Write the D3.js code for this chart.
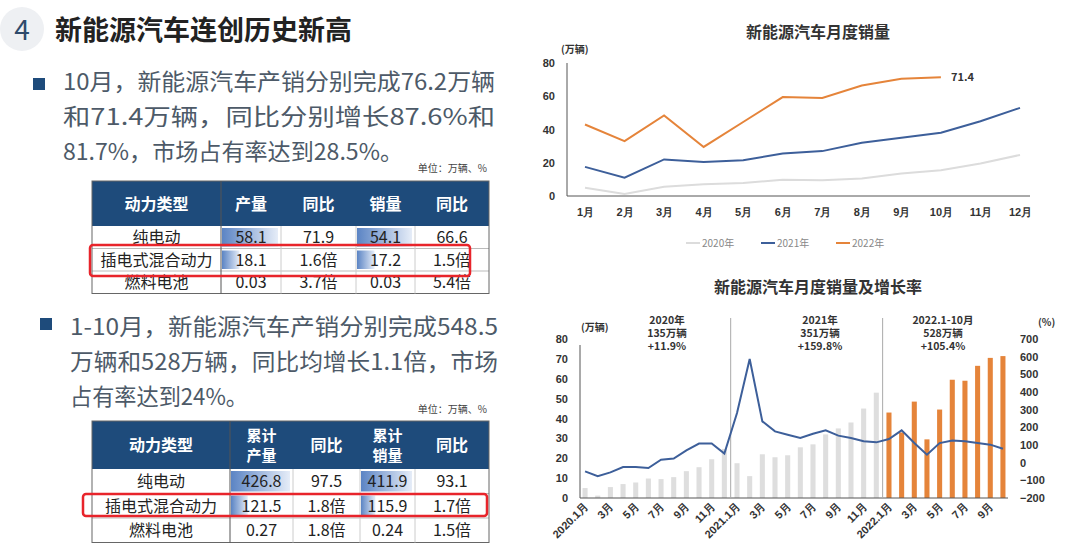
<!DOCTYPE html>
<meta charset="utf-8">
<style>
body { margin: 0; background: #fff; }
svg { font-family: "Noto Sans CJK SC", "Noto Sans", sans-serif; }
.axis path, .axis line { display: none; }
.axis text { font-size: 11px; font-weight: bold; fill: #333; }
</style>
<svg width="1080" height="558"></svg>
<script src="https://cdn.jsdelivr.net/npm/d3@7"></script>
<script>

var months = ["1月","2月","3月","4月","5月","6月","7月","8月","9月","10月","11月","12月"];
var sales2020 = [5, 1.2, 5.5, 7, 7.8, 9.8, 9.5, 10.5, 13.5, 15.5, 19.5, 24.7];
var sales2021 = [17.5, 11, 22, 20.5, 21.5, 25.5, 27, 32, 35, 38, 45, 53];
var sales2022 = [43, 33, 48.5, 29.5, 44.5, 59.5, 59, 66.5, 70.5, 71.4];
var growth = [-49, -77, -55, -25, -25, -30, 17, 23, 70, 108, 108, 51,
              281, 587, 234, 177, 158, 140, 164, 183, 153, 140, 121, 115,
              134, 183, 111, 45, 111, 126, 121, 111, 102, 79];
var yearNotes = [["2020年","135万辆","+11.9%"], ["2021年","351万辆","+159.8%"], ["2022.1-10月","528万辆","+105.4%"]];

var table1Head = ["动力类型","产量","同比","销量","同比"];
var table1Rows = [["纯电动",58.1,"71.9",54.1,"66.6"],["插电式混合动力",18.1,"1.6倍",17.2,"1.5倍"],["燃料电池",0.03,"3.7倍",0.03,"5.4倍"]];
var table2Head = ["动力类型","累计\n产量","同比","累计\n销量","同比"];
var table2Rows = [["纯电动",426.8,"97.5",411.9,"93.1"],["插电式混合动力",121.5,"1.8倍",115.9,"1.7倍"],["燃料电池",0.27,"1.8倍",0.24,"1.5倍"]];

var svg = d3.select("svg");
var blue = "#3d5f9a", orange = "#e5843a", grey = "#dadada", dark = "#1e4b7b";

// gradient for data bars
var grad = svg.append("defs").append("linearGradient").attr("id", "bar");
grad.append("stop").attr("offset", "0%").attr("stop-color", "#5b84c4");
grad.append("stop").attr("offset", "100%").attr("stop-color", "#e6edf8");

// ---- left side: heading and bullets ----
svg.append("circle").attr("cx", 22).attr("cy", 29).attr("r", 22).attr("fill", "#eef0f3");
svg.append("text").attr("x", 22).attr("y", 40).attr("text-anchor", "middle")
    .attr("font-size", 28).attr("fill", "#2e4a6b").text("4");
svg.append("text").attr("x", 55).attr("y", 40).attr("font-size", 27).attr("font-weight", "bold")
    .attr("fill", "#222").text("新能源汽车连创历史新高");

function bullet(x, y, lines, sq) {
  svg.append("rect").attr("x", sq[0]).attr("y", sq[1]).attr("width", 12).attr("height", 12).attr("fill", dark);
  lines.forEach(function(l, i) {
    svg.append("text").attr("x", x).attr("y", y + i * 35).attr("font-size", 23)
        .attr("fill", "#4d5a68").attr("textLength", l[1]).attr("lengthAdjust", "spacingAndGlyphs").text(l[0]);
  });
}
bullet(63, 90, [["10月，新能源汽车产销分别完成76.2万辆", 432], ["和71.4万辆，同比分别增长87.6%和", 432], ["81.7%，市场占有率达到28.5%。", 340]], [33, 78]);
bullet(70, 335, [["1-10月，新能源汽车产销分别完成548.5", 428], ["万辆和528万辆，同比均增长1.1倍，市场", 428], ["占有率达到24%。", 178]], [40, 318]);

function table(x0, y0, cols, headH, rowH, head, rows, unitY, redBox) {
  svg.append("text").attr("x", 487).attr("y", unitY).attr("text-anchor", "end")
      .attr("font-size", 10).attr("fill", "#444").text("单位：万辆、%");
  var xs = [x0]; cols.forEach(function(c) { xs.push(xs[xs.length - 1] + c); });
  var w = xs[xs.length - 1] - x0;
  svg.append("rect").attr("x", x0).attr("y", y0).attr("width", w).attr("height", headH).attr("fill", dark);
  head.forEach(function(h, i) {
    var parts = h.split("\n");
    parts.forEach(function(p, j) {
      svg.append("text").attr("x", (xs[i] + xs[i + 1]) / 2)
          .attr("y", y0 + headH / 2 + 6 + (j - (parts.length - 1) / 2) * 20)
          .attr("text-anchor", "middle").attr("font-size", parts.length > 1 ? 15 : 16).attr("font-weight", "bold")
          .attr("fill", "#fff").text(p);
    });
  });
  [1, 3].forEach(function(ci) {
    var max = d3.max(rows, function(r) { return r[ci]; });
    var bx = d3.scaleLinear().domain([0, max]).range([0, cols[ci] - 4]);
    rows.forEach(function(r, ri) {
      svg.append("rect").attr("x", xs[ci] + 1).attr("y", y0 + headH + ri * rowH + 2)
          .attr("width", bx(r[ci])).attr("height", rowH - 4).attr("fill", "url(#bar)");
    });
  });
  rows.forEach(function(r, ri) {
    var y = y0 + headH + ri * rowH;
    svg.append("line").attr("x1", x0).attr("x2", x0 + w).attr("y1", y + rowH).attr("y2", y + rowH)
        .attr("stroke", "#bbb");
    r.forEach(function(v, ci) {
      svg.append("text").attr("x", (xs[ci] + xs[ci + 1]) / 2).attr("y", y + rowH / 2 + 6)
          .attr("text-anchor", "middle").attr("font-size", 16).attr("fill", "#222").text(v);
    });
  });
  var th = headH + rows.length * rowH;
  svg.append("rect").attr("x", x0).attr("y", y0).attr("width", w).attr("height", th)
      .attr("fill", "none").attr("stroke", "#666");
  xs.slice(1, -1).forEach(function(x, i) {
    svg.append("line").attr("x1", x).attr("x2", x).attr("y1", y0 + (i == 0 ? 0 : headH)).attr("y2", y0 + th)
        .attr("stroke", i == 0 ? "#555" : "#ccc");
  });
  svg.append("rect").attr("x", redBox[0]).attr("y", redBox[1]).attr("width", redBox[2]).attr("height", redBox[3])
      .attr("rx", 3).attr("fill", "none").attr("stroke", "#e8242b").attr("stroke-width", 2.5);
}
table(92, 181, [129, 60, 75, 59, 74], 45, 22.5, table1Head, table1Rows, 172, [90, 245, 380, 31]);
table(92, 421, [138, 63, 67, 55, 74], 48, 24.5, table2Head, table2Rows, 413, [83, 494, 404, 22]);

// ---- top right: monthly line chart ----
var x1 = d3.scalePoint().domain(months).range([585, 1020]);
var y1 = d3.scaleLinear().domain([0, 80]).range([196, 63]);
svg.append("text").attr("x", 818).attr("y", 38).attr("text-anchor", "middle")
    .attr("font-size", 16).attr("font-weight", "bold").attr("fill", "#333").text("新能源汽车月度销量");
svg.append("text").attr("x", 561).attr("y", 53).attr("font-size", 10).attr("font-weight", "bold").attr("fill", "#333").text("(万辆)");
svg.append("g").attr("class", "axis").attr("transform", "translate(567,0)")
    .call(d3.axisLeft(y1).tickValues([0, 20, 40, 60, 80]).tickSize(0).tickPadding(12));
svg.append("g").attr("class", "axis").attr("transform", "translate(0,196)")
    .call(d3.axisBottom(x1).tickSize(0).tickPadding(12));
svg.append("path").attr("d", "M567,63V196H1030").attr("fill", "none").attr("stroke", "#555");
var line1 = d3.line().x(function(d, i) { return x1(months[i]); }).y(function(d) { return y1(d); });
[[sales2020, "#dcdcdc"], [sales2021, blue], [sales2022, orange]].forEach(function(s) {
  svg.append("path").attr("d", line1(s[0])).attr("fill", "none").attr("stroke", s[1]).attr("stroke-width", 2);
});
svg.append("text").attr("x", x1(months[sales2022.length - 1]) + 10).attr("y", y1(71.4) + 4)
    .attr("font-size", 11).attr("font-weight", "bold").attr("fill", "#333").text("71.4");
[["2020年", "#dcdcdc", 686], ["2021年", blue, 761], ["2022年", orange, 836]].forEach(function(l) {
  svg.append("line").attr("x1", l[2]).attr("x2", l[2] + 14).attr("y1", 243).attr("y2", 243).attr("stroke", l[1]).attr("stroke-width", 2);
  svg.append("text").attr("x", l[2] + 16).attr("y", 247).attr("font-size", 10).attr("fill", "#888").text(l[0]);
});

// ---- bottom right: bars + growth line ----
var allSales = sales2020.concat(sales2021, sales2022);
var labels = allSales.map(function(d, i) {
  var yr = 2020 + Math.floor(i / 12), m = i % 12 + 1;
  return m == 1 ? yr + ".1月" : m + "月";
});
var x2 = d3.scaleBand().domain(d3.range(allSales.length)).range([580, 1008]).paddingInner(0.6).paddingOuter(0.2);
var y2 = d3.scaleLinear().domain([0, 80]).range([498, 339]);
var r2 = d3.scaleLinear().domain([-200, 700]).range([498, 339]);
svg.append("text").attr("x", 818).attr("y", 293).attr("text-anchor", "middle")
    .attr("font-size", 16).attr("font-weight", "bold").attr("fill", "#333").text("新能源汽车月度销量及增长率");
svg.append("g").selectAll("rect").data(allSales).join("rect")
    .attr("x", function(d, i) { return x2(i); }).attr("width", x2.bandwidth())
    .attr("y", function(d) { return y2(d); }).attr("height", function(d) { return 498 - y2(d); })
    .attr("fill", function(d, i) { return i >= 24 ? orange : "#dedede"; });
svg.append("g").attr("class", "axis").attr("transform", "translate(580,0)")
    .call(d3.axisLeft(y2).ticks(8).tickSize(0).tickPadding(12));
svg.append("g").attr("class", "axis").attr("transform", "translate(1008,0)")
    .call(d3.axisRight(r2).ticks(9).tickSize(0).tickPadding(12));
var xa = svg.append("g").attr("class", "axis").attr("transform", "translate(0,498)")
    .call(d3.axisBottom(x2).tickSize(0).tickPadding(6)
      .tickValues(d3.range(0, allSales.length, 2)).tickFormat(function(i) { return labels[i]; }));
xa.selectAll("text").attr("text-anchor", "end").attr("transform", "rotate(-45) translate(-4,0)").attr("dy", "0.3em");
svg.append("path").attr("d", "M580,345V498H1008").attr("fill", "none").attr("stroke", "#555");
[12, 24].forEach(function(i) {
  var xx = (x2(i - 1) + x2.bandwidth() + x2(i)) / 2;
  svg.append("line").attr("x1", xx).attr("x2", xx).attr("y1", 318).attr("y2", 498).attr("stroke", "#aaa");
});
var line2 = d3.line().x(function(d, i) { return x2(i) + x2.bandwidth() / 2; }).y(function(d) { return r2(d); });
svg.append("path").attr("d", line2(growth)).attr("fill", "none").attr("stroke", blue).attr("stroke-width", 2);
[667, 820, 943].forEach(function(cx, k) {
  yearNotes[k].forEach(function(t, j) {
    svg.append("text").attr("x", cx).attr("y", 324 + j * 13).attr("text-anchor", "middle")
        .attr("font-size", 10.5).attr("font-weight", "bold").attr("fill", "#333").text(t);
  });
});
svg.append("text").attr("x", 581).attr("y", 331).attr("font-size", 10).attr("font-weight", "bold").attr("fill", "#333").text("(万辆)");
svg.append("text").attr("x", 1038).attr("y", 326).attr("font-size", 10).attr("font-weight", "bold").attr("fill", "#333").text("(%)");

</script>
